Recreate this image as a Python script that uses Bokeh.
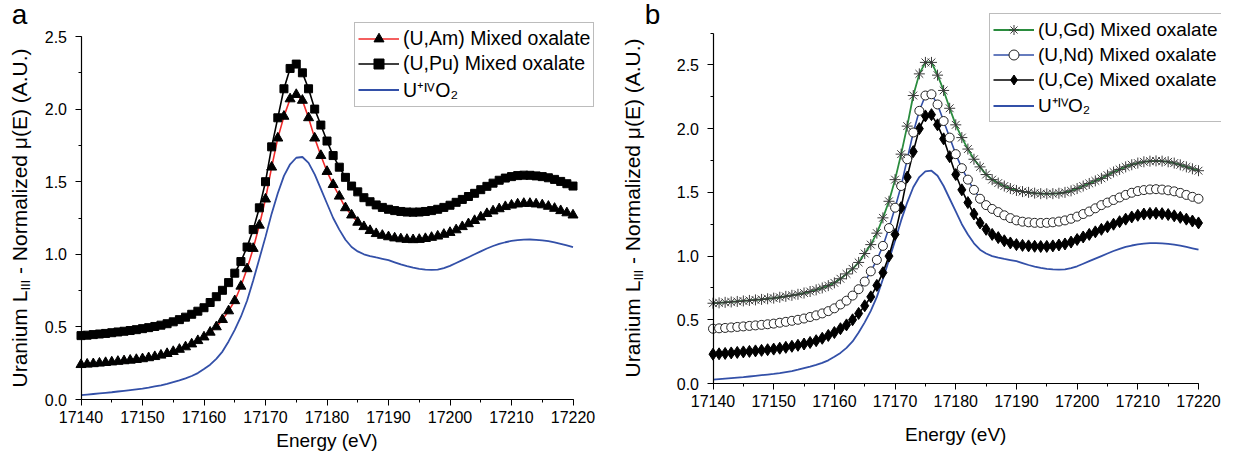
from bokeh.plotting import figure
from bokeh.layouts import row
from bokeh.models import (Range1d, SingleIntervalTicker, PrintfTickFormatter,
                          Legend, LegendItem, Label)
from bokeh.embed import file_html
from bokeh.resources import INLINE

# ---------------- data ----------------
energy = list(range(17140, 17221))

uo2 = [0.030, 0.034, 0.038, 0.042, 0.046, 0.050, 0.055, 0.060, 0.065, 0.070,
       0.075, 0.082, 0.090, 0.098, 0.108, 0.120, 0.132, 0.146, 0.162, 0.182,
       0.210, 0.240, 0.280, 0.330, 0.400, 0.480, 0.570, 0.680, 0.820, 0.970,
       1.120, 1.280, 1.420, 1.540, 1.620, 1.665, 1.670, 1.630, 1.550, 1.450,
       1.350, 1.250, 1.170, 1.100, 1.050, 1.020, 1.000, 0.988, 0.978, 0.969,
       0.960, 0.945, 0.930, 0.918, 0.908, 0.900, 0.895, 0.893, 0.895, 0.905,
       0.920, 0.940, 0.960, 0.980, 1.000, 1.020, 1.040, 1.057, 1.072, 1.083,
       1.092, 1.098, 1.101, 1.102, 1.100, 1.096, 1.090, 1.082, 1.072, 1.061,
       1.050]

u_pu = [0.440, 0.443, 0.447, 0.451, 0.455, 0.460, 0.465, 0.470, 0.475, 0.481,
        0.488, 0.495, 0.503, 0.512, 0.522, 0.535, 0.550, 0.567, 0.587, 0.608,
        0.632, 0.668, 0.708, 0.752, 0.805, 0.870, 0.950, 1.050, 1.170, 1.320,
        1.500, 1.740, 1.940, 2.140, 2.280, 2.310, 2.250, 2.140, 2.000, 1.890,
        1.780, 1.680, 1.600, 1.530, 1.470, 1.430, 1.390, 1.362, 1.340, 1.323,
        1.310, 1.301, 1.295, 1.291, 1.290, 1.291, 1.295, 1.301, 1.310, 1.323,
        1.338, 1.358, 1.378, 1.398, 1.420, 1.445, 1.468, 1.490, 1.510, 1.525,
        1.535, 1.542, 1.545, 1.544, 1.540, 1.535, 1.527, 1.516, 1.502, 1.486,
        1.470]

u_am = [0.240, 0.243, 0.246, 0.250, 0.254, 0.258, 0.262, 0.266, 0.270, 0.275,
        0.280, 0.287, 0.295, 0.305, 0.316, 0.330, 0.345, 0.362, 0.382, 0.405,
        0.430, 0.463, 0.500, 0.550, 0.610, 0.680, 0.780, 0.900, 1.040, 1.200,
        1.380, 1.600, 1.800, 1.950, 2.070, 2.100, 2.060, 1.940, 1.800, 1.680,
        1.570, 1.480, 1.400, 1.320, 1.270, 1.220, 1.190, 1.163, 1.142, 1.130,
        1.120, 1.112, 1.106, 1.102, 1.100, 1.102, 1.108, 1.116, 1.125, 1.137,
        1.150, 1.168, 1.190, 1.210, 1.232, 1.256, 1.280, 1.298, 1.313, 1.328,
        1.338, 1.346, 1.350, 1.350, 1.346, 1.340, 1.330, 1.316, 1.300, 1.285,
        1.270]

u_gd = [0.630, 0.633, 0.637, 0.640, 0.644, 0.648, 0.652, 0.656, 0.660, 0.665,
        0.670, 0.677, 0.684, 0.692, 0.700, 0.710, 0.722, 0.735, 0.750, 0.768,
        0.790, 0.822, 0.860, 0.900, 0.950, 1.020, 1.090, 1.180, 1.300, 1.430,
        1.600, 1.800, 2.020, 2.260, 2.430, 2.520, 2.520, 2.420, 2.300, 2.160,
        2.030, 1.930, 1.840, 1.760, 1.700, 1.640, 1.600, 1.573, 1.550, 1.530,
        1.515, 1.506, 1.500, 1.494, 1.490, 1.489, 1.490, 1.493, 1.500, 1.512,
        1.530, 1.550, 1.570, 1.590, 1.610, 1.635, 1.660, 1.680, 1.700, 1.717,
        1.730, 1.740, 1.745, 1.747, 1.745, 1.740, 1.730, 1.716, 1.700, 1.685,
        1.670]

u_nd = [0.430, 0.433, 0.436, 0.440, 0.444, 0.448, 0.452, 0.456, 0.460, 0.465,
        0.470, 0.477, 0.484, 0.492, 0.500, 0.510, 0.522, 0.535, 0.550, 0.568,
        0.590, 0.620, 0.650, 0.690, 0.740, 0.800, 0.880, 0.970, 1.080, 1.220,
        1.380, 1.550, 1.760, 1.970, 2.140, 2.260, 2.270, 2.190, 2.060, 1.930,
        1.800, 1.690, 1.600, 1.520, 1.450, 1.400, 1.370, 1.345, 1.320, 1.298,
        1.280, 1.270, 1.265, 1.261, 1.260, 1.261, 1.265, 1.271, 1.280, 1.293,
        1.310, 1.330, 1.350, 1.375, 1.400, 1.420, 1.440, 1.460, 1.480, 1.497,
        1.510, 1.518, 1.523, 1.525, 1.522, 1.516, 1.508, 1.496, 1.480, 1.465,
        1.450]

u_ce = [0.230, 0.233, 0.236, 0.240, 0.244, 0.248, 0.252, 0.256, 0.260, 0.265,
        0.270, 0.277, 0.284, 0.292, 0.300, 0.310, 0.322, 0.336, 0.355, 0.377,
        0.400, 0.430, 0.460, 0.500, 0.550, 0.610, 0.680, 0.770, 0.870, 1.000,
        1.170, 1.380, 1.620, 1.820, 2.000, 2.100, 2.110, 2.030, 1.920, 1.780,
        1.640, 1.520, 1.420, 1.330, 1.260, 1.210, 1.170, 1.145, 1.120, 1.103,
        1.090, 1.084, 1.080, 1.077, 1.075, 1.076, 1.080, 1.087, 1.095, 1.110,
        1.130, 1.150, 1.170, 1.190, 1.210, 1.230, 1.250, 1.270, 1.290, 1.307,
        1.320, 1.330, 1.335, 1.336, 1.333, 1.326, 1.316, 1.304, 1.290, 1.275,
        1.260]

labels_a = ["(U,Am) Mixed oxalate", "(U,Pu) Mixed oxalate", "U\u207a\u1d35\u2c7dO\u2082"]
labels_b = ["(U,Gd) Mixed oxalate", "(U,Nd) Mixed oxalate", "(U,Ce) Mixed oxalate",
            "U\u207a\u1d35\u2c7dO\u2082"]
x_title = "Energy (eV)"
y_title_parts = ["Uranium L", "III", "- Normalized \u03bc(E) (A.U.)"]
panel_letters = ["a", "b"]

# ---------------- styling / geometry ----------------
FONT = "Liberation Sans"
BLUE = "#3350A8"
RED = "#F02A2A"
GREEN = "#2A8C3E"
H = 457
E0, E1 = 17140, 17220


def make_fig(width, ymax, left, right, top, bottom):
    """The frame fills the whole canvas; axes are pinned with fixed_location.
    left/right/top/bottom: canvas pixels of the axis box edges."""
    ppx = (right - left) / (E1 - E0)
    ppy = (bottom - top) / ymax
    xr = Range1d(E0 - left / ppx, E1 + (width - right) / ppx)
    yr = Range1d(-(H - bottom) / ppy, ymax + top / ppy)
    p = figure(width=width, height=H, output_backend="svg", toolbar_location=None,
               x_range=xr, y_range=yr, min_border=0, min_border_left=0,
               min_border_right=0, min_border_top=0, min_border_bottom=0)
    p.outline_line_color = None
    p.grid.visible = False
    p.background_fill_color = "white"
    p.border_fill_color = "white"
    p.xaxis.fixed_location = 0
    p.yaxis.fixed_location = E0
    p.xaxis.bounds = (E0, E1)
    p.yaxis.bounds = (0, ymax)
    p.xaxis.ticker = SingleIntervalTicker(interval=10, num_minor_ticks=2)
    p.yaxis.ticker = SingleIntervalTicker(interval=0.5, num_minor_ticks=2)
    p.xaxis.formatter = PrintfTickFormatter(format="%d")
    p.yaxis.formatter = PrintfTickFormatter(format="%.1f")
    for ax in (p.xaxis[0], p.yaxis[0]):
        ax.major_tick_in = 0
        ax.major_tick_out = 6
        ax.minor_tick_in = 0
        ax.minor_tick_out = 3
        ax.axis_line_color = "black"
        ax.axis_line_width = 1.2
        ax.major_tick_line_color = "black"
        ax.minor_tick_line_color = "black"
        ax.major_label_text_font = FONT
        ax.major_label_text_font_size = "16px"
        ax.major_label_text_color = "black"
    p.xaxis.major_label_standoff = 5
    p.yaxis.major_label_standoff = 8
    return p, ppx, ppy


def add_texts(p, ppx, ppy, left, bottom, ytitle_cx, ytitle_start, letter_c, letter, xtitle_cy):
    def dx(cx):
        return E0 + (cx - left) / ppx

    def dy(cy):
        return (bottom - cy) / ppy

    fs = 21
    w1 = 96.9   # "Uranium L" at 21px
    w2 = 10.8   # "III" at 13px
    sp = 5.8    # a space at 21px
    x0 = dx(ytitle_cx)
    p.add_layout(Label(x=x0, y=dy(ytitle_start), text=y_title_parts[0], angle=1.5708,
                       text_font=FONT, text_font_size=f"{fs}px",
                       text_align="left", text_baseline="middle", text_color="black"))
    p.add_layout(Label(x=dx(ytitle_cx + 6), y=dy(ytitle_start - w1), text=y_title_parts[1],
                       angle=1.5708, text_font=FONT, text_font_size="13px",
                       text_align="left", text_baseline="middle", text_color="black"))
    p.add_layout(Label(x=x0, y=dy(ytitle_start - w1 - w2 - sp), text=y_title_parts[2],
                       angle=1.5708, text_font=FONT, text_font_size=f"{fs}px",
                       text_align="left", text_baseline="middle", text_color="black"))
    p.add_layout(Label(x=(E0 + E1) / 2, y=dy(xtitle_cy), text=x_title, text_font=FONT,
                       text_font_size="19px", text_align="center", text_baseline="middle",
                       text_color="black"))
    p.add_layout(Label(x=dx(letter_c[0]), y=dy(letter_c[1]), text=letter, text_font=FONT,
                       text_font_size="28px", text_align="center", text_baseline="middle",
                       text_color="black"))


def style_legend(lg, fsize):
    lg.label_text_font = FONT
    lg.label_text_font_size = fsize
    lg.label_text_color = "black"
    lg.glyph_width = 41
    lg.glyph_height = 25
    lg.label_height = 25
    lg.label_standoff = 4
    lg.padding = 3
    lg.spacing = 0
    lg.margin = 0
    lg.border_line_color = "#7a7a7a"
    lg.border_line_width = 1
    lg.background_fill_color = "white"
    lg.background_fill_alpha = 1.0


# ---------------- panel a ----------------
# canvas pixels (this canvas starts at page x=8, y=8)
A_L, A_R, A_T, A_B = 80.5, 572.5, 36, 399
pa, ppx_a, ppy_a = make_fig(604, 2.5, A_L, A_R, A_T, A_B)

r_uo2a = pa.line(energy, uo2, line_color=BLUE, line_width=1.8)
r_am_l = pa.line(energy, u_am, line_color=RED, line_width=1.6)
r_am_s = pa.scatter(energy, u_am, marker="triangle", size=10, fill_color="black",
                    line_color="black")
r_pu_l = pa.line(energy, u_pu, line_color="black", line_width=1.6)
r_pu_s = pa.scatter(energy, u_pu, marker="square", size=8, fill_color="black",
                    line_color="black")

leg_a = Legend(items=[LegendItem(label=labels_a[0], renderers=[r_am_l, r_am_s]),
                      LegendItem(label=labels_a[1], renderers=[r_pu_l, r_pu_s]),
                      LegendItem(label=labels_a[2], renderers=[r_uo2a])],
               location=(354, 350))
style_legend(leg_a, "19.5px")
pa.add_layout(leg_a)

add_texts(pa, ppx_a, ppy_a, A_L, A_B, 19, 387, (19, 14), panel_letters[0], 440)

# ---------------- panel b ----------------
# this canvas starts at page x=612, y=8
B_L, B_R, B_T, B_B = 108.5, 594, 32.6, 383
pb, ppx_b, ppy_b = make_fig(617, 2.75, B_L, B_R, B_T, B_B)

r_uo2b = pb.line(energy, uo2, line_color=BLUE, line_width=1.8)
r_ce_l = pb.line(energy, u_ce, line_color="black", line_width=1.6)
r_ce_s = pb.scatter(energy, u_ce, marker="diamond", size=12, fill_color="black",
                    line_color="black")
r_nd_l = pb.line(energy, u_nd, line_color=BLUE, line_width=1.6)
r_nd_s = pb.scatter(energy, u_nd, marker="circle", size=9, fill_color="white",
                    line_color="#222222", line_width=1)
r_gd_l = pb.line(energy, u_gd, line_color=GREEN, line_width=1.8)
r_gd_s = pb.scatter(energy, u_gd, marker="asterisk", size=11, line_color="#3a3a3a",
                    line_width=1)

leg_b = Legend(items=[LegendItem(label=labels_b[0], renderers=[r_gd_l, r_gd_s]),
                      LegendItem(label=labels_b[1], renderers=[r_nd_l, r_nd_s]),
                      LegendItem(label=labels_b[2], renderers=[r_ce_l, r_ce_s]),
                      LegendItem(label=labels_b[3], renderers=[r_uo2b])],
               location=(385, 335))
style_legend(leg_b, "19px")
pb.add_layout(leg_b)

add_texts(pb, ppx_b, ppy_b, B_L, B_B, 28, 377, (48, 14), panel_letters[1], 434)

layout = row(pa, pb)
open("out.html", "w").write(file_html(layout, INLINE))
